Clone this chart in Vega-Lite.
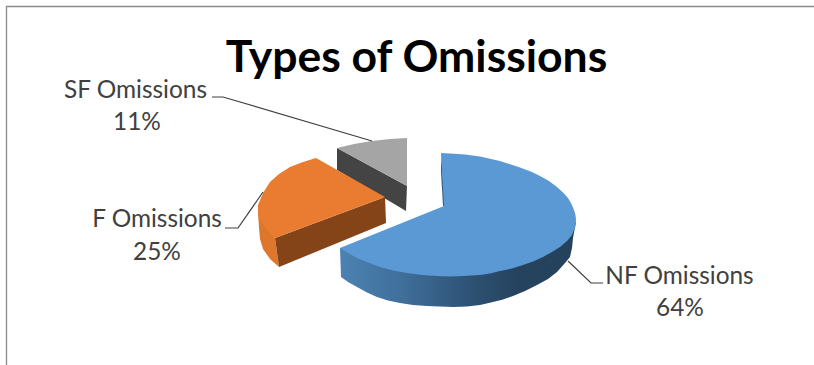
{
  "$schema": "https://vega.github.io/schema/vega-lite/v6.json",
  "width": 814,
  "height": 365,
  "padding": 0,
  "autosize": {"type": "none"},
  "background": "white",
  "view": {"stroke": null},
  "datasets": {
    "outlines": [
      {"part":"sfDark","o":0,"x":337,"y":148},{"part":"sfDark","o":1,"x":407,"y":186},{"part":"sfDark","o":2,"x":406,"y":211},{"part":"sfDark","o":3,"x":337,"y":170},{"part":"sfDark","o":4,"x":337,"y":148},
      {"part":"sfTop","o":0,"x":407,"y":138},{"part":"sfTop","o":1,"x":390,"y":139},{"part":"sfTop","o":2,"x":372,"y":141},{"part":"sfTop","o":3,"x":354,"y":144},{"part":"sfTop","o":4,"x":337,"y":148},{"part":"sfTop","o":5,"x":407,"y":186},{"part":"sfTop","o":6,"x":407,"y":138},
      {"part":"fWall","o":0,"x":258,"y":213},{"part":"fWall","o":1,"x":275,"y":238},{"part":"fWall","o":2,"x":279,"y":267},{"part":"fWall","o":3,"x":270,"y":259},{"part":"fWall","o":4,"x":263,"y":249},{"part":"fWall","o":5,"x":260,"y":239},{"part":"fWall","o":6,"x":259,"y":228},{"part":"fWall","o":7,"x":258,"y":213},
      {"part":"fDark","o":0,"x":275,"y":238},{"part":"fDark","o":1,"x":385,"y":197},{"part":"fDark","o":2,"x":386,"y":223},{"part":"fDark","o":3,"x":279,"y":267},{"part":"fDark","o":4,"x":275,"y":238},
      {"part":"fTop","o":0,"x":316,"y":158},{"part":"fTop","o":1,"x":303,"y":162},{"part":"fTop","o":2,"x":290,"y":167},{"part":"fTop","o":3,"x":279,"y":174},{"part":"fTop","o":4,"x":270,"y":182},{"part":"fTop","o":5,"x":263,"y":193},{"part":"fTop","o":6,"x":258,"y":205},{"part":"fTop","o":7,"x":258,"y":215},{"part":"fTop","o":8,"x":265,"y":227},{"part":"fTop","o":9,"x":275,"y":238},{"part":"fTop","o":10,"x":385,"y":197},{"part":"fTop","o":11,"x":316,"y":158},
      {"part":"nfSliver","o":0,"x":441,"y":153},{"part":"nfSliver","o":1,"x":441,"y":172},{"part":"nfSliver","o":2,"x":443,"y":206},{"part":"nfSliver","o":3,"x":445,"y":206},{"part":"nfSliver","o":4,"x":441,"y":153},
      {"part":"nfWall","o":0,"x":576,"y":222},{"part":"nfWall","o":1,"x":573,"y":238},{"part":"nfWall","o":2,"x":572,"y":248},{"part":"nfWall","o":3,"x":570,"y":257},{"part":"nfWall","o":4,"x":565,"y":263},{"part":"nfWall","o":5,"x":557,"y":272},{"part":"nfWall","o":6,"x":548,"y":279},{"part":"nfWall","o":7,"x":537,"y":285},{"part":"nfWall","o":8,"x":525,"y":291},{"part":"nfWall","o":9,"x":513,"y":296},{"part":"nfWall","o":10,"x":503,"y":299.5},{"part":"nfWall","o":11,"x":493,"y":302},{"part":"nfWall","o":12,"x":480,"y":305},{"part":"nfWall","o":13,"x":467,"y":306.5},{"part":"nfWall","o":14,"x":453,"y":307},{"part":"nfWall","o":15,"x":440,"y":306.5},{"part":"nfWall","o":16,"x":427,"y":306},{"part":"nfWall","o":17,"x":413,"y":305},{"part":"nfWall","o":18,"x":400,"y":303},{"part":"nfWall","o":19,"x":388,"y":300.5},{"part":"nfWall","o":20,"x":377,"y":297},{"part":"nfWall","o":21,"x":367,"y":292.5},{"part":"nfWall","o":22,"x":357,"y":287},{"part":"nfWall","o":23,"x":348,"y":282},{"part":"nfWall","o":24,"x":341,"y":277},{"part":"nfWall","o":25,"x":340,"y":248},{"part":"nfWall","o":26,"x":576,"y":222},
      {"part":"nfTop","o":0,"x":441,"y":153},{"part":"nfTop","o":1,"x":450,"y":153.5},{"part":"nfTop","o":2,"x":465,"y":154.5},{"part":"nfTop","o":3,"x":480,"y":156.5},{"part":"nfTop","o":4,"x":500,"y":161},{"part":"nfTop","o":5,"x":520,"y":167.5},{"part":"nfTop","o":6,"x":532,"y":172},{"part":"nfTop","o":7,"x":540,"y":176},{"part":"nfTop","o":8,"x":549,"y":181},{"part":"nfTop","o":9,"x":557,"y":187},{"part":"nfTop","o":10,"x":563,"y":192.5},{"part":"nfTop","o":11,"x":568,"y":198},{"part":"nfTop","o":12,"x":571.5,"y":204},{"part":"nfTop","o":13,"x":574,"y":210},{"part":"nfTop","o":14,"x":575.5,"y":215},{"part":"nfTop","o":15,"x":576,"y":220},{"part":"nfTop","o":16,"x":575.5,"y":226},{"part":"nfTop","o":17,"x":572,"y":235},{"part":"nfTop","o":18,"x":567,"y":241},{"part":"nfTop","o":19,"x":560,"y":247},{"part":"nfTop","o":20,"x":552,"y":252},{"part":"nfTop","o":21,"x":543,"y":257},{"part":"nfTop","o":22,"x":533,"y":261.5},{"part":"nfTop","o":23,"x":523,"y":265},{"part":"nfTop","o":24,"x":512,"y":268.5},{"part":"nfTop","o":25,"x":500,"y":271},{"part":"nfTop","o":26,"x":490,"y":273.5},{"part":"nfTop","o":27,"x":480,"y":275},{"part":"nfTop","o":28,"x":463,"y":276},{"part":"nfTop","o":29,"x":450,"y":276.5},{"part":"nfTop","o":30,"x":437,"y":276},{"part":"nfTop","o":31,"x":422,"y":275},{"part":"nfTop","o":32,"x":407,"y":273},{"part":"nfTop","o":33,"x":393,"y":270.5},{"part":"nfTop","o":34,"x":380,"y":267},{"part":"nfTop","o":35,"x":368,"y":262.5},{"part":"nfTop","o":36,"x":357,"y":258},{"part":"nfTop","o":37,"x":348,"y":253},{"part":"nfTop","o":38,"x":340,"y":248},{"part":"nfTop","o":39,"x":444,"y":206},{"part":"nfTop","o":40,"x":441,"y":153}
    ],
    "leaders": [
      {"slice":"SF Omissions","o":0,"x":212,"y":97},{"slice":"SF Omissions","o":1,"x":223,"y":97},{"slice":"SF Omissions","o":2,"x":372,"y":141},
      {"slice":"F Omissions","o":0,"x":225,"y":228},{"slice":"F Omissions","o":1,"x":238,"y":228},{"slice":"F Omissions","o":2,"x":263,"y":192},
      {"slice":"NF Omissions","o":0,"x":568,"y":261},{"slice":"NF Omissions","o":1,"x":591,"y":283},{"slice":"NF Omissions","o":2,"x":603,"y":283}
    ],
    "frame": [
      {"o":0,"x":6.5,"y":365},{"o":1,"x":6.5,"y":6.5},{"o":2,"x":814,"y":6.5}
    ],
    "labels": [
      {"text":"SF Omissions","x":135.5,"y":91},{"text":"11%","x":137,"y":123},
      {"text":"F Omissions","x":157,"y":220},{"text":"25%","x":157,"y":253},
      {"text":"NF Omissions","x":679.5,"y":277},{"text":"64%","x":680,"y":309}
    ],
    "heading": [{"text":"Types of Omissions","x":416.5,"y":59}]
  },
  "encoding": {
    "x": {"field":"x","type":"quantitative","scale":{"domain":[0,814],"nice":false,"zero":false},"axis":null},
    "y": {"field":"y","type":"quantitative","scale":{"domain":[365,0],"nice":false,"zero":false},"axis":null}
  },
  "layer": [
    {
      "data":{"name":"frame"},
      "mark":{"type":"line","stroke":"#8c8c8c","strokeWidth":1.3},
      "encoding":{"order":{"field":"o"}}
    },
    {
      "data":{"name":"outlines"},
      "transform":[{"filter":"datum.part==='sfDark'"}],
      "mark":{"type":"line","fill":"#444444","strokeWidth":0},
      "encoding":{"order":{"field":"o"}}
    },
    {
      "data":{"name":"outlines"},
      "transform":[{"filter":"datum.part==='sfTop'"}],
      "mark":{"type":"line","fill":"#a5a5a5","strokeWidth":0},
      "encoding":{"order":{"field":"o"}}
    },
    {
      "data":{"name":"outlines"},
      "transform":[{"filter":"datum.part==='fWall'"}],
      "mark":{"type":"line","fill":"#dd772c","strokeWidth":0},
      "encoding":{"order":{"field":"o"}}
    },
    {
      "data":{"name":"outlines"},
      "transform":[{"filter":"datum.part==='fDark'"}],
      "mark":{"type":"line","fill":"#844417","strokeWidth":0},
      "encoding":{"order":{"field":"o"}}
    },
    {
      "data":{"name":"outlines"},
      "transform":[{"filter":"datum.part==='fTop'"}],
      "mark":{"type":"line","fill":"#e97c30","strokeWidth":0},
      "encoding":{"order":{"field":"o"}}
    },
    {
      "data":{"name":"outlines"},
      "transform":[{"filter":"datum.part==='nfWall'"}],
      "mark":{"type":"line","strokeWidth":0,"fill":{"gradient":"linear","x1":0,"y1":0,"x2":1,"y2":0,"stops":[
        {"offset":0,"color":"#4c82b2"},{"offset":0.25,"color":"#40709c"},{"offset":0.55,"color":"#2e5274"},{"offset":0.75,"color":"#25435e"},{"offset":1,"color":"#25425c"}
      ]}},
      "encoding":{"order":{"field":"o"}}
    },
    {
      "data":{"name":"outlines"},
      "transform":[{"filter":"datum.part==='nfSliver'"}],
      "mark":{"type":"line","fill":"#2f5a80","strokeWidth":0},
      "encoding":{"order":{"field":"o"}}
    },
    {
      "data":{"name":"outlines"},
      "transform":[{"filter":"datum.part==='nfTop'"}],
      "mark":{"type":"line","fill":"#5a99d4","strokeWidth":0},
      "encoding":{"order":{"field":"o"}}
    },
    {
      "data":{"name":"leaders"},
      "mark":{"type":"line","stroke":"#404040","strokeWidth":1.2},
      "encoding":{"detail":{"field":"slice"},"order":{"field":"o"}}
    },
    {
      "data":{"name":"labels"},
      "mark":{"type":"text","font":"Lato","fontSize":24.4,"fill":"#404040","align":"center","baseline":"middle"},
      "encoding":{"text":{"field":"text"}}
    },
    {
      "data":{"name":"heading"},
      "mark":{"type":"text","font":"Lato","fontSize":44.5,"fontWeight":"bold","fill":"#000000","align":"center","baseline":"middle"},
      "encoding":{"text":{"field":"text"}}
    }
  ]
}
